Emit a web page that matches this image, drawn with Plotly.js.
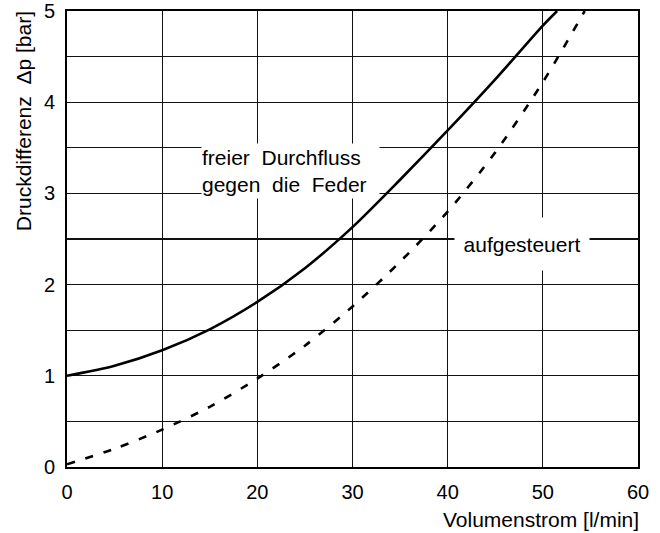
<!DOCTYPE html>
<html>
<head>
<meta charset="utf-8">
<script src="https://cdn.plot.ly/plotly-3.0.1.min.js"></script>
<style>html,body{margin:0;padding:0;background:#fff;}#chart{width:660px;height:533px;}</style>
</head>
<body>
<div id="chart"></div>
<script>
// Solid curve: "freier Durchfluss gegen die Feder"
const freeX = [0, 5, 10, 15, 20, 25, 30, 35, 40, 45, 50, 51.5];
const freeY = [1.0, 1.11, 1.28, 1.51, 1.81, 2.18, 2.63, 3.15, 3.69, 4.25, 4.84, 5.0];
// Dashed curve: "aufgesteuert"
const pilotX = [0, 5, 10, 15, 20, 25, 30, 35, 40, 45, 50, 54.4];
const pilotY = [0.03, 0.2, 0.41, 0.66, 0.97, 1.33, 1.76, 2.25, 2.8, 3.45, 4.22, 5.0];

const xTicks = [0, 10, 20, 30, 40, 50, 60];
const yTicks = [0, 1, 2, 3, 4, 5];

const labelFree = "freier\u00A0\u00A0Durchfluss<br>gegen\u00A0\u00A0die\u00A0\u00A0Feder";
const labelPilot = "aufgesteuert";
const xTitle = "Volumenstrom [l/min]";
const yTitle = "Druckdifferenz\u00A0\u00A0Δp [bar]";

const tickFont = {family: "Liberation Sans, Arial, sans-serif", size: 20, color: "#000"};
const textFont = {family: "Liberation Sans, Arial, sans-serif", size: 21, color: "#000"};

const traces = [
  {x: freeX, y: freeY, type: "scatter", mode: "lines",
   line: {color: "#000", width: 2.6, shape: "spline", smoothing: 0.8}, hoverinfo: "skip"},
  {x: pilotX, y: pilotY, type: "scatter", mode: "lines",
   line: {color: "#000", width: 2.6, dash: "8px,11px", shape: "spline", smoothing: 0.8}, hoverinfo: "skip"}
];

const layout = {
  width: 660, height: 533,
  margin: {l: 67, r: 22, t: 11, b: 66},
  paper_bgcolor: "#fff", plot_bgcolor: "#fff",
  showlegend: false,
  font: tickFont,
  xaxis: {
    range: [0, 60], tickvals: xTicks, ticktext: xTicks.map(String),
    showgrid: true, gridcolor: "#111", gridwidth: 1.3,
    zeroline: false, showline: true, mirror: true, linecolor: "#000", linewidth: 2,
    ticks: "", ticklabelstandoff: 6, tickfont: tickFont, fixedrange: true
  },
  yaxis: {
    range: [0, 5], tickvals: yTicks, ticktext: yTicks.map(String),
    showgrid: true, gridcolor: "#111", gridwidth: 1.3,
    minor: {dtick: 0.5, showgrid: true, gridcolor: "#111", gridwidth: 1.3, ticks: ""},
    zeroline: false, showline: true, mirror: true, linecolor: "#000", linewidth: 2,
    ticks: "", ticklabelstandoff: 6, tickfont: tickFont, fixedrange: true
  },
  annotations: [
    {text: labelFree, x: 23.5, y: 3.25, xref: "x", yref: "y", showarrow: false,
     bgcolor: "#fff", width: 177, height: 54, borderpad: 0, align: "left", font: textFont},
    {text: labelPilot, x: 47.8, y: 2.45, xref: "x", yref: "y", showarrow: false,
     bgcolor: "#fff", width: 134, height: 52, borderpad: 0, align: "center", font: textFont},
    {text: xTitle, x: 1.006, y: -0.116, xref: "paper", yref: "paper", xanchor: "right", yanchor: "middle",
     showarrow: false, font: textFont},
    {text: yTitle, x: -0.077, y: 1.004, xref: "paper", yref: "paper", xanchor: "center", yanchor: "top",
     textangle: -90, showarrow: false, font: textFont}
  ]
};

Plotly.newPlot("chart", traces, layout, {staticPlot: true, displayModeBar: false});
</script>
</body>
</html>
